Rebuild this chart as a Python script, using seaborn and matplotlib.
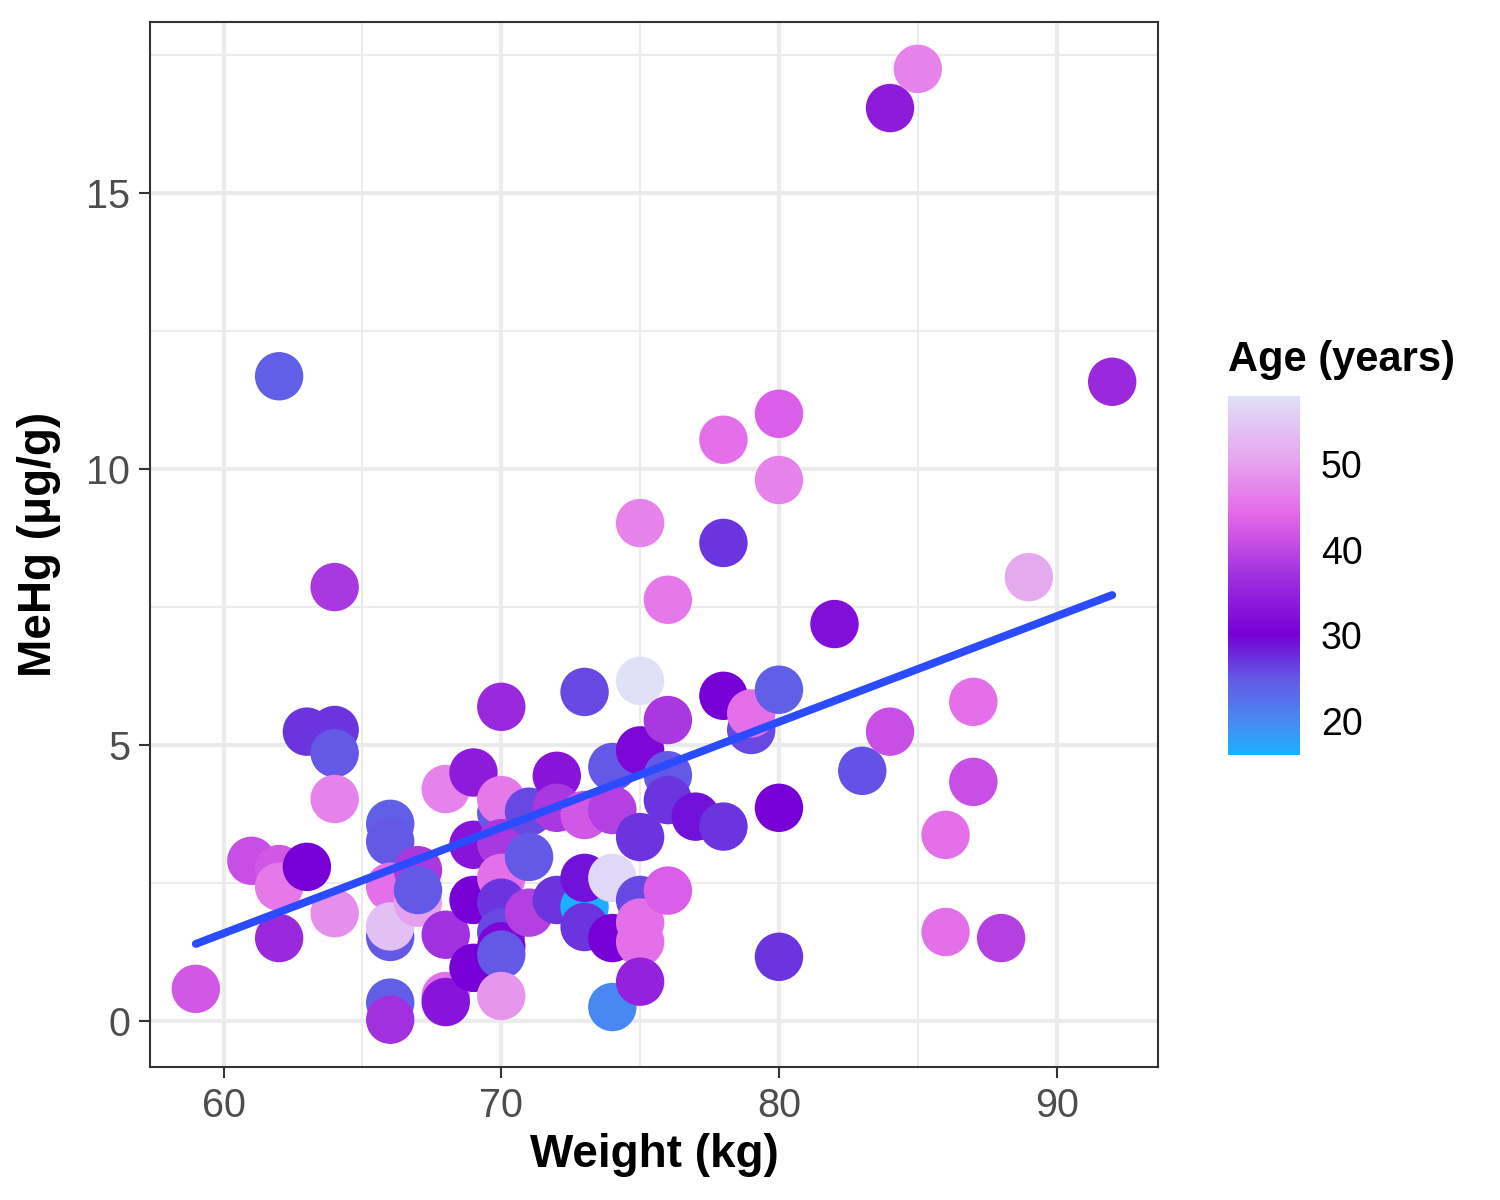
import numpy as np
import pandas as pd
import matplotlib
matplotlib.use("Agg")
import matplotlib.pyplot as plt
from matplotlib.colors import LinearSegmentedColormap, Normalize
from matplotlib.ticker import MultipleLocator
import seaborn as sns

# values
weight = [59, 61, 62, 62, 62, 63, 63, 64, 64, 64, 64, 64, 62,
          66, 66, 66, 66, 66, 66, 66, 67, 67, 67, 68, 68, 68, 68,
          69, 69, 69, 69, 70, 70, 70, 70, 70, 70, 70, 70, 70, 70,
          71, 71, 71, 72, 72, 72, 73, 73, 73, 73, 73, 74, 74, 74, 74, 74,
          75, 75, 75, 75, 75, 75, 75, 75, 76, 76, 76, 76, 76, 77,
          78, 78, 78, 78, 79, 79, 80, 80, 80, 80, 80, 82, 83, 84, 84, 85,
          86, 86, 87, 87, 88, 89, 92]
mehg = [0.58, 2.90, 2.75, 2.43, 1.50, 2.79, 5.24, 5.27, 4.85, 4.02, 1.95, 7.86, 11.68,
        3.57, 3.25, 2.43, 1.52, 1.71, 0.33, 0.02, 2.73, 2.14, 2.37, 4.20, 1.56, 0.45, 0.34,
        4.50, 3.19, 2.19, 0.96, 5.69, 3.77, 4.00, 3.22, 2.59, 2.14, 1.60, 1.35, 1.20, 0.45,
        3.79, 2.97, 1.96, 4.44, 3.86, 2.19, 5.96, 3.73, 2.07, 2.59, 1.70, 4.60, 3.82, 2.59, 1.50, 0.25,
        6.16, 4.90, 3.33, 2.19, 1.78, 1.43, 0.71, 9.02, 5.45, 4.45, 4.00, 2.36, 7.63, 3.70,
        5.89, 3.52, 8.66, 10.53, 5.27, 5.57, 6.00, 3.86, 1.16, 11.00, 9.80, 7.19, 4.53, 5.24, 16.54, 17.25,
        3.37, 1.61, 5.78, 4.33, 1.50, 8.04, 11.58]
age = [42, 41, 42, 46, 36, 30, 27, 27, 25, 47, 48, 38, 24.5,
       24.5, 25, 45, 25, 54, 24.5, 37, 38, 50, 25, 47, 37, 45, 33,
       34, 33, 30, 30, 36, 25, 46, 38, 45, 27, 26, 31, 25, 49,
       26, 25, 39, 33, 38, 27, 26, 42, 16, 29, 27, 25, 39, 57, 30, 20,
       58, 31, 27, 26, 45, 45, 35, 47, 38, 25, 27, 43, 46, 29,
       30, 27, 27, 45, 26, 45, 24.5, 30, 27, 43, 47, 32, 25.5, 41, 34, 47,
       45, 45, 45, 41, 39, 51, 36]

age_ticks = [20, 30, 40, 50]
age_range = (16, 58)

df = pd.DataFrame({"weight": weight, "mehg": mehg, "age": age})

# colour scale: light blue -> purple -> magenta -> lavender
stops = [(16, "#1AB0FF"), (20, "#4A88F2"), (25, "#6458E6"), (30, "#7600D6"),
         (37, "#A030E0"), (44, "#E466E8"), (50, "#E6A0EE"), (58, "#E0E0F8")]
cmap = LinearSegmentedColormap.from_list(
    "age", [((a - age_range[0]) / (age_range[1] - age_range[0]), c) for a, c in stops])
norm = Normalize(*age_range)

sns.set_theme(style="white")
plt.rcParams["font.family"] = ["Liberation Sans", "DejaVu Sans"]

fig = plt.figure(figsize=(5, 4), dpi=300)
ax = fig.add_axes([0.1, 0.111, 0.672, 0.8707])

sns.scatterplot(data=df, x="weight", y="mehg", hue="age", palette=cmap, hue_norm=norm,
                s=135, linewidth=0, alpha=1, legend=False, ax=ax, zorder=3)
sns.regplot(data=df, x="weight", y="mehg", scatter=False, ci=None, ax=ax,
            color="#2A4BFF", line_kws={"linewidth": 1.9, "zorder": 4})

# ggplot-like theme_bw
ax.set_xlim(57.35, 93.65)
ax.set_ylim(-0.833, 18.10)
ax.xaxis.set_major_locator(MultipleLocator(10))
ax.xaxis.set_minor_locator(MultipleLocator(5))
ax.yaxis.set_major_locator(MultipleLocator(5))
ax.yaxis.set_minor_locator(MultipleLocator(2.5))
ax.grid(which="major", color="#EBEBEB", linewidth=1.0, zorder=0)
ax.grid(which="minor", color="#EBEBEB", linewidth=0.5, zorder=0)
ax.set_axisbelow(True)
for sp in ax.spines.values():
    sp.set_color("#333333")
    sp.set_linewidth(0.5)
ax.tick_params(which="major", direction="out", length=2.75, width=0.5, color="#333333",
               labelsize=9.5, labelcolor="#4D4D4D", pad=2, bottom=True, left=True)
ax.tick_params(which="minor", length=0)
ax.set_xlabel("Weight (kg)", fontsize=11, fontweight="bold", labelpad=2, color="black")
ax.set_ylabel("MeHg (\u03bcg/g)", fontsize=11, fontweight="bold", labelpad=6, color="black")

# colourbar legend
cax = fig.add_axes([0.8187, 0.371, 0.048, 0.299])
sm = plt.cm.ScalarMappable(norm=norm, cmap=cmap)
cb = fig.colorbar(sm, cax=cax, ticks=age_ticks)
cb.outline.set_visible(False)
cax.tick_params(direction="in", length=3.3, width=0.5, color="white",
                left=True, right=True, labelleft=False, labelright=True,
                labelsize=9, labelcolor="black", pad=5)
cax.set_title("Age (years)", fontsize=10, fontweight="bold", loc="left", pad=6, color="black")

fig.savefig("out.png", dpi=300)
